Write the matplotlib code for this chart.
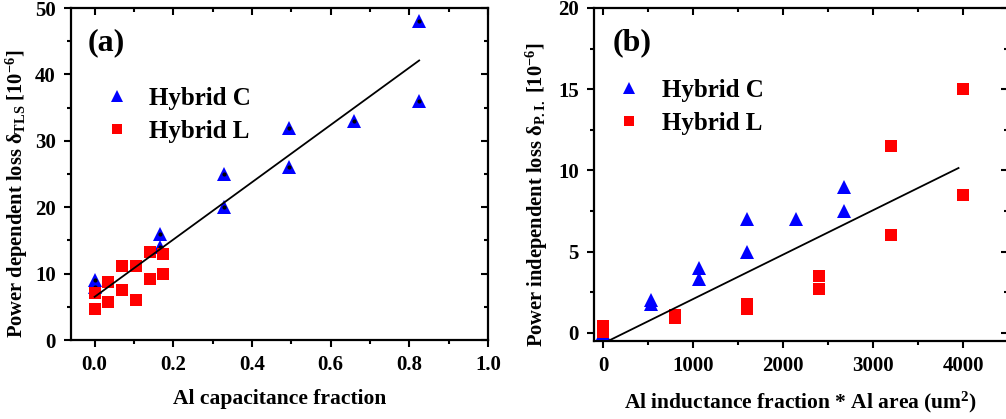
import numpy as np
import matplotlib
matplotlib.use("Agg")
import matplotlib.pyplot as plt
from matplotlib.ticker import MultipleLocator

plt.rcParams['font.family'] = ['Liberation Serif', 'DejaVu Serif']
plt.rcParams['font.weight'] = 'bold'
plt.rcParams['mathtext.fontset'] = 'custom'
plt.rcParams['mathtext.rm'] = 'Liberation Serif:bold'
plt.rcParams['mathtext.it'] = 'Liberation Serif:bold'
plt.rcParams['mathtext.bf'] = 'Liberation Serif:bold'

# panel (a): power dependent loss vs Al capacitance fraction
a_c_x = [0, 0, 0.165, 0.165, 0.33, 0.33, 0.495, 0.495, 0.66, 0.825, 0.825]
a_c_y = [9.0, 8.0, 16.0, 14.0, 25.0, 20.0, 32.0, 26.0, 33.0, 48.0, 36.0]
a_l_x = [0, 0, 0.035, 0.035, 0.07, 0.07, 0.105, 0.105, 0.14, 0.14, 0.175, 0.175]
a_l_y = [7.1, 4.6, 8.8, 5.7, 11.2, 7.5, 11.2, 6.0, 13.2, 9.2, 12.9, 10.0]
a_fit_x = [0, 0.825]
a_fit_y = [6.5, 42.1]

# panel (b): power independent loss vs Al inductance fraction * Al area
b_c_x = [0, 535, 535, 1070, 1070, 1600, 1600, 2140, 2680, 2680]
b_c_y = [0.0, 2.0, 1.8, 4.0, 3.3, 7.0, 5.0, 7.0, 9.0, 7.5]
b_l_x = [0, 0, 800, 800, 1600, 1600, 2400, 2400, 3200, 3200, 4000, 4000]
b_l_y = [0.4, 0.05, 1.1, 0.9, 1.8, 1.5, 3.5, 2.7, 11.5, 6.0, 15.0, 8.5]
b_fit_x = [0, 3950]
b_fit_y = [-0.65, 10.15]

fig = plt.figure(figsize=(10.06, 4.19), dpi=100)
ax1 = fig.add_axes([0.0706, 0.1885, 0.4145, 0.7924])
ax2 = fig.add_axes([0.5905, 0.186, 0.4115, 0.795])


def style(ax):
    for s in ax.spines.values():
        s.set_linewidth(1.6)
    ax.tick_params(which='both', width=1.5, labelsize=15, pad=6)
    ax.tick_params(which='major', length=5)
    ax.tick_params(which='minor', length=3)
    ax.tick_params(axis='both', which='both', direction='out')
    ax.tick_params(which='both', top=True, right=True)
    # top / right ticks point inward
    for t in ax.xaxis.get_major_ticks() + ax.xaxis.get_minor_ticks():
        t.tick2line.set_marker(3)
    for t in ax.yaxis.get_major_ticks() + ax.yaxis.get_minor_ticks():
        t.tick2line.set_marker(0)
    for lbl in ax.get_xticklabels() + ax.get_yticklabels():
        lbl.set_fontweight('bold')


# ----- (a)
ax1.plot(a_c_x, a_c_y, '^', color='#0000ff', ms=10, mew=0, label='Hybrid C', zorder=3)
ax1.plot(a_c_x, a_c_y, 'o', color='black', ms=3, mew=0, zorder=3.1)
ax1.plot(a_l_x, a_l_y, 's', color='#ff0000', ms=8, mew=0, label='Hybrid L', zorder=4)
ax1.plot(a_fit_x, a_fit_y, '-', color='black', lw=1.3, zorder=5)
ax1.set_xlim(-0.06, 1.0)
ax1.set_ylim(0, 50)
ax1.xaxis.set_major_locator(MultipleLocator(0.2))
ax1.xaxis.set_minor_locator(MultipleLocator(0.1))
ax1.yaxis.set_major_locator(MultipleLocator(10))
ax1.yaxis.set_minor_locator(MultipleLocator(5))
ax1.set_xticks(ax1.get_xticks())
ax1.set_xticklabels(['%.1f' % v for v in ax1.get_xticks()])
ax1.set_xlim(-0.06, 1.0)
style(ax1)
ax1.set_xlabel('Al capacitance fraction', fontsize=15.5, fontweight='bold', labelpad=10)
ax1.set_ylabel(r'Power dependent loss $\mathregular{\delta_{TLS}}$ [10$^{\mathregular{-6}}$]',
               fontsize=14.8, fontweight='bold')
ax1.yaxis.set_label_coords(-0.098, 0.44)
ax1.text(0.04, 0.94, '(a)', transform=ax1.transAxes, fontsize=23, fontweight='bold',
         ha='left', va='top')
ax1.legend(loc='upper left', bbox_to_anchor=(0.02, 0.83), frameon=False, fontsize=18,
           markerscale=0.9, handletextpad=0.7, labelspacing=0.4, handlelength=1.2)

# ----- (b)
ax2.plot(b_c_x, b_c_y, '^', color='#0000ff', ms=10, mew=0, label='Hybrid C', zorder=3)
ax2.plot(b_l_x, b_l_y, 's', color='#ff0000', ms=8, mew=0, label='Hybrid L', zorder=4)
ax2.plot(b_fit_x, b_fit_y, '-', color='black', lw=1.3, zorder=5)
ax2.set_xlim(-100, 4500)
ax2.set_ylim(-0.5, 20)
ax2.xaxis.set_major_locator(MultipleLocator(1000))
ax2.xaxis.set_minor_locator(MultipleLocator(500))
ax2.yaxis.set_major_locator(MultipleLocator(5))
ax2.yaxis.set_minor_locator(MultipleLocator(2.5))
style(ax2)
ax2.set_xlabel(r'Al inductance fraction * Al area (um$^{\mathregular{2}}$)', fontsize=15.5,
               fontweight='bold', labelpad=10)
ax2.set_ylabel(r'Power independent loss $\mathregular{\delta_{P.I.}}$ [10$^{\mathregular{-6}}$]',
               fontsize=14.8, fontweight='bold')
ax2.yaxis.set_label_coords(-0.106, 0.44)
ax2.text(0.045, 0.94, '(b)', transform=ax2.transAxes, fontsize=23, fontweight='bold',
         ha='left', va='top')
ax2.legend(loc='upper left', bbox_to_anchor=(-0.005, 0.855), frameon=False, fontsize=18,
           markerscale=0.9, handletextpad=0.7, labelspacing=0.4, handlelength=1.2)

fig.savefig('out.png', dpi=100)
